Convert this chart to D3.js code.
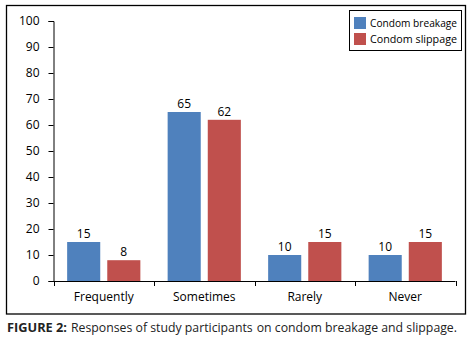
<!DOCTYPE html>
<html><head><meta charset="utf-8">
<script src="https://cdn.jsdelivr.net/npm/d3@7"></script>
<style>body{margin:0;background:#fff}svg{display:block}</style>
</head><body>
<script>
const categories = ["Frequently","Sometimes","Rarely","Never"];
const seriesNames = ["Condom breakage","Condom slippage"];
const breakage = [15,65,10,10];
const slippage = [8,62,15,15];
const yTicks = [0,10,20,30,40,50,60,70,80,90,100];
const colors = ["#4F81BD","#C0504D"];
const captionLabel = "FIGURE 2:";
const captionParts = ["Responses of study participants", "on condom breakage and slippage."];

const W=474,H=344;
const svg=d3.select("body").append("svg").attr("width",W).attr("height",H);
const font="'Open Sans', 'Liberation Sans', sans-serif";
const narrow="'Liberation Sans Narrow', 'Open Sans', sans-serif";

svg.append("rect").attr("x",6.5).attr("y",5.5).attr("width",459).attr("height",308.5)
  .attr("fill","none").attr("stroke","#000").attr("stroke-width",1.3);

const x=d3.scaleBand().domain(categories).range([53.5,455.5]);
const y=d3.scaleLinear().domain([0,100]).range([281,21]);
const xs=d3.scaleBand().domain([0,1]).range([0,x.bandwidth()]).paddingInner(0.175).paddingOuter(0.34);

const yAxis=d3.axisLeft(y).tickValues(yTicks).tickSize(5).tickPadding(9);
const gy=svg.append("g").attr("transform","translate(53.5,0)").call(yAxis);
gy.selectAll("text").attr("font-family",font).attr("font-size",12).attr("fill","#000");
gy.select(".domain").attr("stroke","#000");
gy.selectAll(".tick line").attr("stroke","#000");

const xAxis=d3.axisBottom(x).tickSize(0).tickPadding(11);
const gx=svg.append("g").attr("transform","translate(0,281.5)").call(xAxis);
gx.select(".domain").attr("d","M53.5,0H455.5").attr("stroke","#000");
gx.selectAll("text").attr("font-family",font).attr("font-size",12).attr("fill","#000");
const bounds=categories.map(c=>x(c)).concat([x.range()[1]]);
svg.append("g").selectAll("line").data(bounds).join("line")
  .attr("x1",d=>Math.round(d)+0.5).attr("x2",d=>Math.round(d)+0.5)
  .attr("y1",281).attr("y2",286).attr("stroke","#000");

const series=[breakage,slippage];
series.forEach((vals,si)=>{
  const g=svg.append("g");
  g.selectAll("rect").data(vals).join("rect")
    .attr("x",(d,i)=>x(categories[i])+xs(si))
    .attr("width",xs.bandwidth())
    .attr("y",d=>y(d)).attr("height",d=>y(0)-y(d))
    .attr("fill",colors[si]);
  g.selectAll("text").data(vals).join("text")
    .attr("x",(d,i)=>x(categories[i])+xs(si)+xs.bandwidth()/2)
    .attr("y",d=>y(d)-4)
    .attr("text-anchor","middle").attr("font-family",font).attr("font-size",12)
    .text(d=>d);
});

const lg=svg.append("g");
lg.append("rect").attr("x",349.5).attr("y",10.5).attr("width",112).attr("height",40)
  .attr("fill","#fff").attr("stroke","#000").attr("stroke-width",1);
seriesNames.forEach((n,i)=>{
  lg.append("rect").attr("x",354).attr("y",17+i*16).attr("width",12).attr("height",12).attr("fill",colors[i]);
  lg.append("text").attr("x",370).attr("y",27+i*16).attr("font-family",font).attr("font-size",10.5)
    .attr("textLength",87).attr("lengthAdjust","spacingAndGlyphs").text(n);
});

svg.append("text").attr("x",7).attr("y",332).attr("font-family",narrow).attr("font-size",13)
  .attr("font-weight","bold").attr("fill","#222").attr("textLength",60).attr("lengthAdjust","spacingAndGlyphs")
  .text(captionLabel);
// caption body split in two pieces, stretched to span x=71..457
const capStart=71, capEnd=457;
const pieces=captionParts.map(t=>svg.append("text").attr("y",332).attr("font-family",narrow)
  .attr("font-size",13).attr("fill","#222").text(t));
const widths=pieces.map(p=>p.node().getComputedTextLength());
const gap=4;
const k=(capEnd-capStart-gap)/(widths[0]+widths[1]);
let cx=capStart;
pieces.forEach((p,i)=>{
  const w=widths[i]*k;
  p.attr("x",cx).attr("textLength",w).attr("lengthAdjust","spacingAndGlyphs");
  cx+=w+gap;
});
</script>
</body></html>
